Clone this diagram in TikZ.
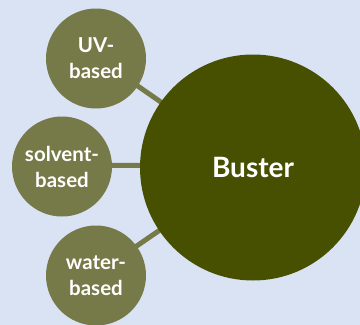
\documentclass[tikz,border=0pt]{standalone}
\usepackage{fontspec}
\setmainfont{Lato}
\definecolor{bgblue}{HTML}{DAE3F3}
\definecolor{bigolive}{HTML}{465000}
\definecolor{smallolive}{HTML}{767A48}
\begin{document}
\begin{tikzpicture}[x=1pt,y=-1pt,
  small/.style={circle,fill=smallolive,draw=none,minimum size=100pt,inner sep=0pt,text=white,font=\fontsize{20.5}{26}\selectfont\bfseries,align=center},
  big/.style={circle,fill=bigolive,draw=none,minimum size=226pt,inner sep=0pt,text=white,font=\fontsize{28}{32}\selectfont\bfseries},
  link/.style={draw=smallolive,line width=5pt}]
\fill[bgblue] (0,0) rectangle (360,325);
\clip (0,0) rectangle (360,325);
\useasboundingbox (0,0) rectangle (360,325);
\coordinate (cb) at (253,166);
\coordinate (c1) at (96,57);
\coordinate (c2) at (62,165);
\coordinate (c3) at (96,274);
\draw[link] (c1) -- (cb);
\draw[link] (c2) -- (cb);
\draw[link] (c3) -- (cb);
\node[big] (buster) at ([yshift=-1.5pt]cb) {Buster};
\node[small] (uv) at ([yshift=-1.5pt]c1) {UV-\\based};
\node[small] (solv) at ([yshift=-1.5pt]c2) {solvent-\\based};
\node[small] (water) at ([yshift=-1.5pt]c3) {water-\\based};
\end{tikzpicture}
\end{document}
